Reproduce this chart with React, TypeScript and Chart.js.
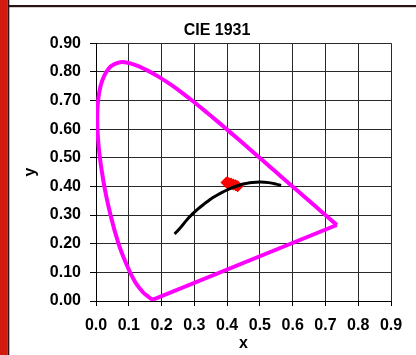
import React, { useEffect, useRef } from 'react';
import { Chart, registerables } from 'chart.js';

Chart.register(...registerables);

const titleText = 'CIE 1931';
const xTitle = 'x';
const yTitle = 'y';
const xTickLabels = ['0.0', '0.1', '0.2', '0.3', '0.4', '0.5', '0.6', '0.7', '0.8', '0.9'];
const yTickLabels = ['0.00', '0.10', '0.20', '0.30', '0.40', '0.50', '0.60', '0.70', '0.80', '0.90'];

// spectral locus (magenta curve)
const locusX = [0.1741, 0.1733, 0.1714, 0.1644, 0.1566, 0.144, 0.1241, 0.1096, 0.0913, 0.0687, 0.0454, 0.0235, 0.0082, 0.0039, 0.0139, 0.0389, 0.0743, 0.1142, 0.1547, 0.1929, 0.2296, 0.2658, 0.3016, 0.3373, 0.3731, 0.4087, 0.4441, 0.4788, 0.5125, 0.5448, 0.5752, 0.6029, 0.627, 0.6658, 0.6915, 0.7079, 0.719, 0.726, 0.7334, 0.7347];
const locusY = [0.005, 0.0048, 0.0051, 0.0109, 0.0177, 0.0297, 0.0578, 0.0868, 0.1327, 0.2007, 0.295, 0.4127, 0.5384, 0.6548, 0.7502, 0.812, 0.8338, 0.8262, 0.8059, 0.7816, 0.7543, 0.7243, 0.6923, 0.6589, 0.6245, 0.5896, 0.5547, 0.5202, 0.4866, 0.4544, 0.4242, 0.3965, 0.3725, 0.334, 0.3083, 0.292, 0.2809, 0.274, 0.2666, 0.2653];

// purple line closing the locus
const purpleX = [0.7347, 0.1741];
const purpleY = [0.2653, 0.005];

// planckian locus (black)
const planckX = [0.2399, 0.2548, 0.2637, 0.2807, 0.2952, 0.3135, 0.3221, 0.3325, 0.3451, 0.3608, 0.3805, 0.4053, 0.4369, 0.4599, 0.477, 0.5015, 0.5266, 0.5496, 0.5646];
const planckY = [0.2342, 0.2522, 0.2644, 0.2883, 0.3048, 0.3237, 0.3318, 0.3408, 0.3516, 0.3636, 0.3768, 0.3907, 0.4041, 0.4106, 0.4137, 0.4153, 0.4133, 0.4081, 0.4029];

// measured samples (red)
const sampleX = [0.398, 0.405, 0.412, 0.419, 0.426, 0.432];
const sampleY = [0.414, 0.412, 0.41, 0.407, 0.404, 0.401];

const toPts = (xs: number[], ys: number[]) => xs.map((x, i) => ({ x, y: ys[i] }));

const framePlugin = {
  id: 'frame',
  beforeDraw(chart: any) {
    const ctx = chart.ctx;
    ctx.save();
    ctx.fillStyle = '#ffffff';
    ctx.fillRect(0, 0, chart.width, chart.height);
    ctx.fillStyle = '#d21a0e';
    ctx.fillRect(0, 0, 7.5, chart.height);
    ctx.fillStyle = '#2a1212';
    ctx.fillRect(7.5, 0, 1.8, chart.height);
    ctx.fillRect(8, 5, chart.width - 8, 2.2);
    ctx.restore();
  },
};

const font = { family: "'Liberation Sans', Arial, sans-serif", size: 16, weight: 'bold' as const };

export default function App() {
  const ref = useRef<HTMLCanvasElement | null>(null);
  useEffect(() => {
    document.body.style.margin = '0';
    const canvas = ref.current;
    if (!canvas) return;
    const chart = new Chart(canvas, {
      type: 'scatter',
      data: {
        datasets: [
          {
            data: toPts(locusX, locusY),
            showLine: true,
            borderColor: '#ff00ff',
            borderWidth: 4,
            pointRadius: 0,
            tension: 0.4,
          },
          {
            data: toPts(purpleX, purpleY),
            showLine: true,
            borderColor: '#ff00ff',
            borderWidth: 4,
            pointRadius: 0,
            tension: 0,
          },
          {
            data: toPts(planckX, planckY),
            showLine: true,
            borderColor: '#000000',
            borderWidth: 3,
            pointRadius: 0,
            tension: 0.4,
          },
          {
            data: toPts(sampleX, sampleY),
            showLine: false,
            pointStyle: 'rectRot',
            pointRadius: 6,
            backgroundColor: '#ff0000',
            borderColor: '#ff0000',
            borderWidth: 0,
          },
        ],
      } as any,
      options: {
        responsive: false,
        animation: false,
        layout: { padding: { left: 18, right: 0, top: 0, bottom: 0 } },
        plugins: {
          legend: { display: false },
          tooltip: { enabled: false },
          title: {
            display: true,
            text: titleText,
            color: '#000',
            font,
            padding: { top: 21, bottom: 3 },
          },
        },
        scales: {
          x: {
            type: 'linear',
            min: 0,
            max: 0.9,
            afterFit: (s: any) => {
              s.height = 54;
              s.paddingRight = 25;
            },
            ticks: {
              stepSize: 0.1,
              color: '#000',
              font,
              padding: 10,
              maxRotation: 0,
              autoSkip: false,
              callback: (_v: any, i: number) => xTickLabels[i] ?? '',
            },
            grid: { color: '#2a2a2a', lineWidth: 1, tickLength: 5, tickColor: '#000' },
            border: { color: '#000', width: 1 },
            title: { display: true, text: xTitle, color: '#000', font, padding: { top: 0, bottom: 2 } },
          },
          y: {
            type: 'linear',
            min: 0,
            max: 0.9,
            afterFit: (s: any) => {
              s.width = 78;
            },
            ticks: {
              stepSize: 0.1,
              color: '#000',
              font,
              padding: 9,
              autoSkip: false,
              callback: (_v: any, i: number) => yTickLabels[i] ?? '',
            },
            grid: { color: '#2a2a2a', lineWidth: 1, tickLength: 6, tickColor: '#000' },
            border: { color: '#000', width: 1 },
            title: { display: true, text: yTitle, color: '#000', font, padding: { top: 3, bottom: 0 } },
          },
        },
      } as any,
      plugins: [framePlugin],
    });
    return () => chart.destroy();
  }, []);
  return (
    <div style={{ width: 416, height: 355 }}>
      <canvas ref={ref} width={416} height={355} />
    </div>
  );
}
